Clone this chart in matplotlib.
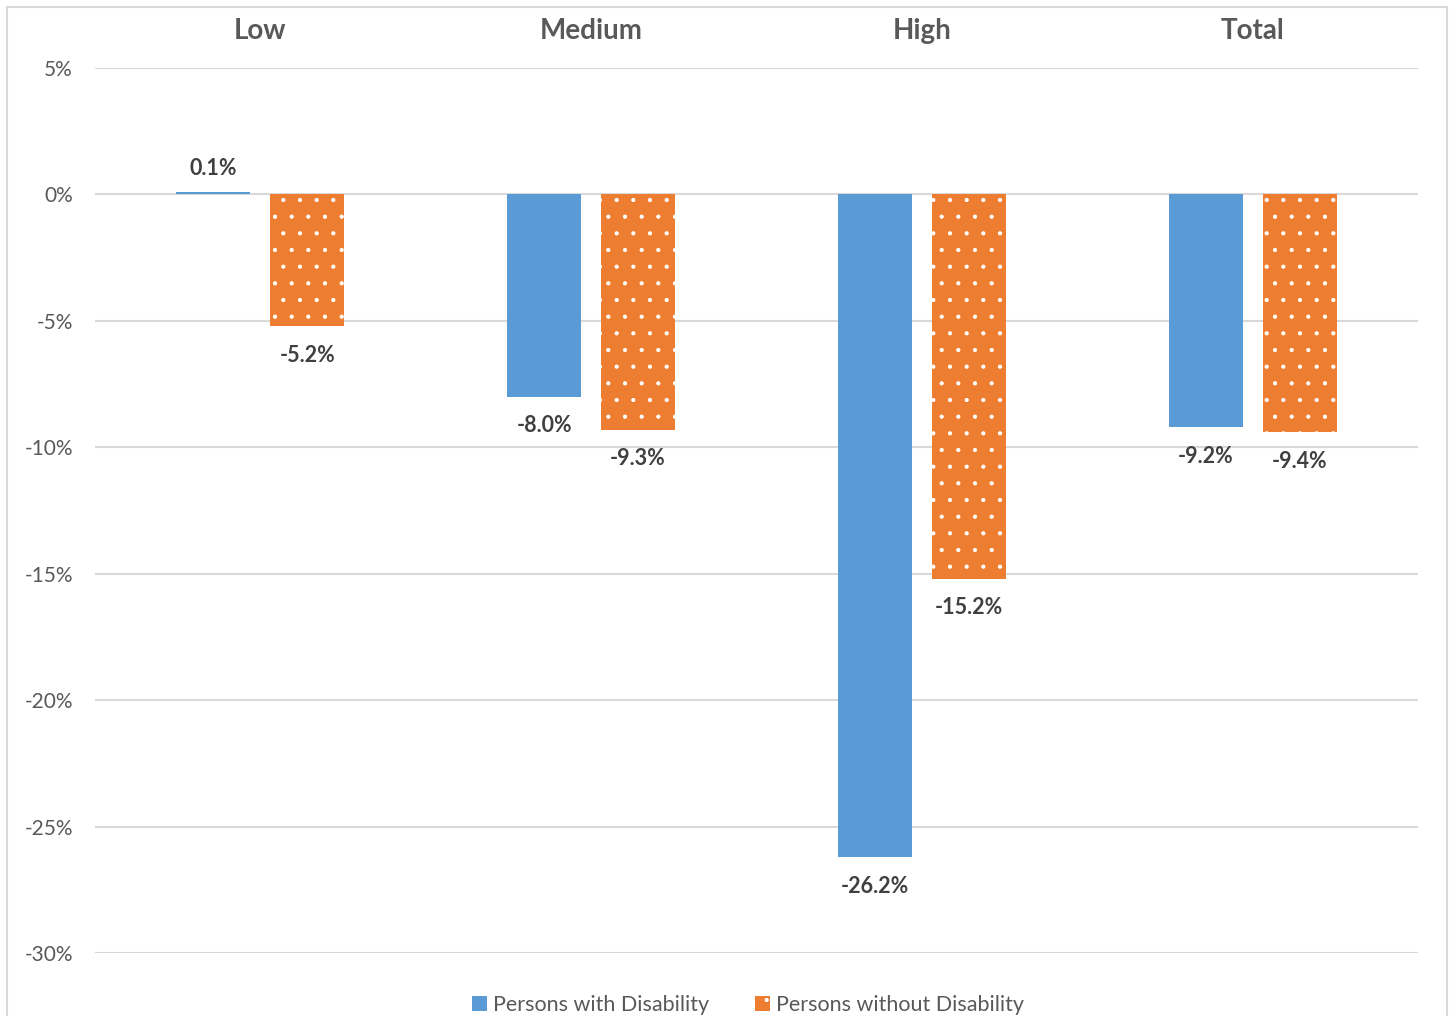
import numpy as np
import matplotlib
matplotlib.use("Agg")
import matplotlib.pyplot as plt
from matplotlib.patches import Rectangle

plt.rcParams['font.family'] = ['Lato', 'DejaVu Sans']
plt.rcParams['hatch.linewidth'] = 0.6

categories = ["Low", "Medium", "High", "Total"]
with_dis = [0.1, -8.0, -26.2, -9.2]
without_dis = [-5.2, -9.3, -15.2, -9.4]
series_names = ["Persons with Disability", "Persons without Disability"]
yticks = [5, 0, -5, -10, -15, -20, -25, -30]

blue = "#5B9BD5"
orange = "#ED7D31"
grid_c = "#D9D9D9"

fig = plt.figure(figsize=(14.5, 10.16), dpi=100)
ax = fig.add_axes([95/1450, 1-953/1016, (1418-95)/1450, (953-68)/1016])

# outer border of the chart area
fig.patches.append(Rectangle((7/1450, -0.02), (1447-7)/1450, 1.0-7/1016+0.02,
                             transform=fig.transFigure, fill=False,
                             edgecolor=grid_c, linewidth=1.5))

x = np.arange(len(categories))
w = 0.224
off = 0.142
b1 = ax.bar(x - off, with_dis, w, color=blue, label=series_names[0], zorder=3)
b2 = ax.bar(x + off, without_dis, w, color=orange, edgecolor="white", linewidth=0,
            hatch=".", label=series_names[1], zorder=3)

for bars, vals in [(b1, with_dis), (b2, without_dis)]:
    for r, v in zip(bars, vals):
        cx = r.get_x() + r.get_width()/2
        dy = 17 if v > 0 else -21
        ax.annotate(f"{v:.1f}%", (cx, v), xytext=(0, dy), textcoords="offset points",
                    ha="center", va="center", fontsize=15.5, fontweight="bold",
                    color="#404040")

ax.set_xlim(-0.5, len(categories) - 0.5)
ax.set_ylim(-30, 5)
ax.set_yticks(yticks)
ax.set_yticklabels([f"{t}%" for t in yticks], fontsize=15, color="#595959")
ax.yaxis.grid(True, color=grid_c, linewidth=1.5, zorder=0)
ax.set_axisbelow(True)
ax.tick_params(axis="y", length=0, pad=16)

ax.xaxis.tick_top()
ax.set_xticks(x)
ax.set_xticklabels(categories, fontsize=20, fontweight="bold", color="#595959")
ax.tick_params(axis="x", length=0, pad=17)

for s in ax.spines.values():
    s.set_visible(False)

ax.legend(loc="center", bbox_to_anchor=(748/1450, 1-1005/1016), bbox_transform=fig.transFigure,
          ncol=2, frameon=False, fontsize=15.5, handlelength=0.7, handleheight=0.7,
          handletextpad=0.3, columnspacing=2.1, labelcolor="#595959")

fig.savefig("out.png", dpi=100)
